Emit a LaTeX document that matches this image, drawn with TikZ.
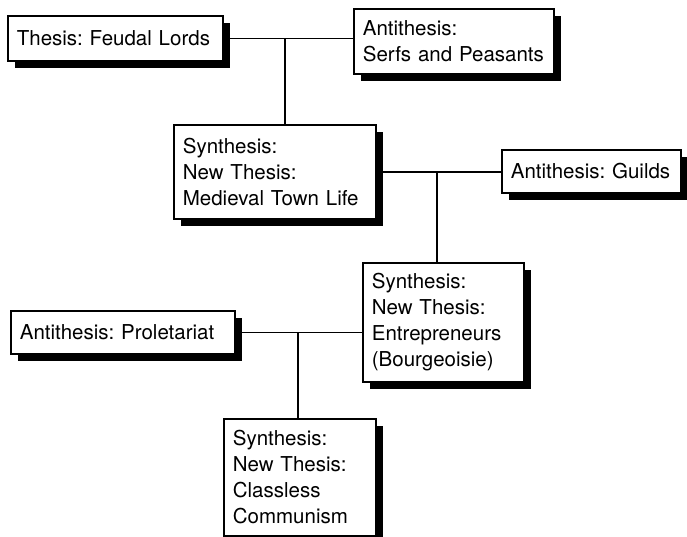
\documentclass[tikz,border=0pt]{standalone}
\usepackage{fontspec}
\setmainfont{TeX Gyre Heros}
\frenchspacing
\usetikzlibrary{positioning, calc, shadows}

\begin{document}
\begin{tikzpicture}[
        x=1pt, y=-1pt,
        box/.style={rectangle, draw=black, line width=1.7pt, fill=white, anchor=north west,
                    inner xsep=9pt, inner ysep=0pt, align=left,
                    font=\fontsize{20.5}{26}\selectfont,
                    drop shadow={shadow xshift=7pt, shadow yshift=-7pt, fill=black, opacity=1}},
        link/.style={draw=black, line width=1.5pt}
    ]
    \useasboundingbox (0,0) rectangle (687,537);

    %% --- Feudal stage ---
    \node[box, text width=197pt, minimum height=45pt] (feudal) at (7,15)   {Thesis: Feudal Lords};
    \node[box, text width=182pt, minimum height=65pt] (serfs)  at (353,8)  {Antithesis:\\Serfs and Peasants};
    \node[box, text width=184pt, minimum height=94pt] (town)   at (173,124) {Synthesis:\\New Thesis:\\Medieval Town Life};

    %% --- Town stage ---
    \node[box, text width=161pt, minimum height=43pt] (guilds) at (501,149) {Antithesis: Guilds};
    \node[box, text width=143pt, minimum height=119pt] (bourg) at (362,262) {Synthesis:\\New Thesis:\\Entrepreneurs\\(Bourgeoisie)};

    %% --- Bourgeois stage ---
    \node[box, text width=206pt, minimum height=43pt] (prolet) at (10,310)  {Antithesis: Proletariat};
    \node[box, text width=134pt, minimum height=117pt] (commun) at (223,418) {Synthesis:\\New Thesis:\\Classless\\Communism};

    %% --- Junctions ---
    \coordinate (j1) at (feudal.east -| 285,0);
    \coordinate (j2) at (town.east -| 437,0);
    \coordinate (j3) at (prolet.east -| 298,0);

    %% --- Connectors ---
    \draw[link] (feudal.east) -- (feudal.east -| serfs.west);
    \draw[link] (j1) -- (j1 |- town.north);
    \draw[link] (town.east) -- (town.east -| guilds.west);
    \draw[link] (j2) -- (j2 |- bourg.north);
    \draw[link] (prolet.east) -- (prolet.east -| bourg.west);
    \draw[link] (j3) -- (j3 |- commun.north);

\end{tikzpicture}
\end{document}
